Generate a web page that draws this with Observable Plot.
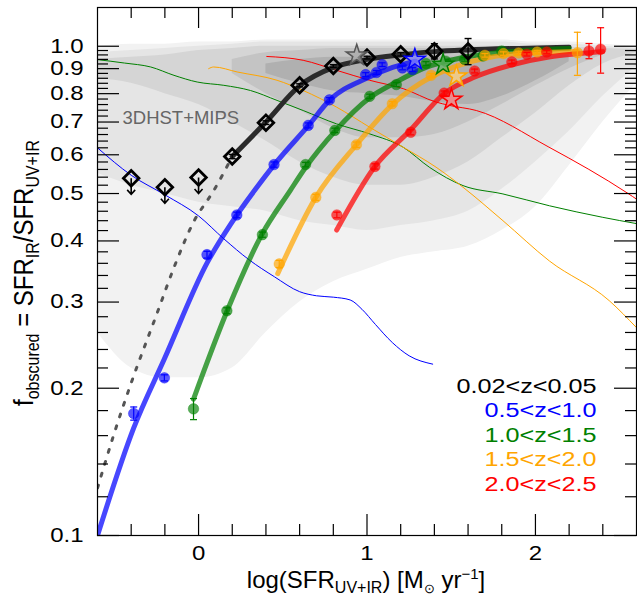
<!DOCTYPE html>
<html><head><meta charset="utf-8">
<script src="https://cdn.jsdelivr.net/npm/d3@7"></script>
<script src="https://cdn.jsdelivr.net/npm/@observablehq/plot@0.6"></script>
<style>body{margin:0;background:#fff}svg{display:block}</style>
</head><body><div id="chart"></div>
<script>
// ---------- data ----------
const xMajor = [0, 1, 2];
const xMinor = [-0.4, -0.2, 0.2, 0.4, 0.6, 0.8, 1.2, 1.4, 1.6, 1.8, 2.2, 2.4];
const yMajor = [0.1, 0.2, 0.3, 0.4, 0.5, 0.6, 0.7, 0.8, 0.9, 1.0];
const yMinor = d3.range(5, 50).filter(i => i % 5 !== 0).map(i => i / 50);

// background density (3DHST+MIPS), nested levels
const bandX = [-0.6,-0.4,-0.2,0,0.2,0.4,0.6,0.8,1.0,1.2,1.4,1.6,1.8,2.0,2.2,2.4,2.6];
const g1Lo = [0.26,0.22,0.21,0.21,0.22,0.26,0.30,0.33,0.35,0.37,0.38,0.39,0.42,0.47,0.57,0.70,0.84];
const g1Hi = [1.0,1.01,1.01,1.02,1.02,1.03,1.03,1.03,1.03,1.03,1.03,1.03,1.03,1.02,1.02,1.01,1.0];
const g2Lo = [0.55,0.52,0.50,0.48,0.47,0.46,0.44,0.43,0.42,0.43,0.44,0.46,0.51,0.58,0.67,0.79,0.91];
const g2Hi = [0.97,0.98,0.99,1.0,1.01,1.02,1.02,1.02,1.02,1.02,1.02,1.02,1.02,1.01,1.01,1.0,0.99];
const g3Lo = [0.86,0.84,0.80,0.76,0.70,0.64,0.58,0.54,0.52,0.52,0.54,0.58,0.65,0.73,0.83,0.92,0.97];
const g3Hi = [0.94,0.95,0.96,0.98,0.99,1.0,1.0,1.0,1.0,1.0,1.0,1.0,1.0,1.0,0.995,0.99,0.985];
const g4X  = [0.2,0.4,0.6,0.8,1.0,1.2,1.4,1.6,1.8,2.0,2.2,2.4];
const g4Lo = [0.88,0.80,0.74,0.68,0.65,0.65,0.66,0.70,0.76,0.83,0.90,0.96];
const g4Hi = [0.94,0.97,0.98,0.99,0.99,0.99,0.99,0.99,0.99,0.99,0.985,0.975];
const g5X  = [0.4,0.6,0.8,1.0,1.2,1.4,1.6,1.8,2.0,2.2];
const g5Lo = [0.88,0.84,0.81,0.80,0.79,0.77,0.76,0.79,0.85,0.93];
const g5Hi = [0.92,0.94,0.95,0.95,0.95,0.95,0.95,0.96,0.96,0.96];

// 0.02<z<0.05 (diamonds)
const bkX   = [-0.4,-0.2,0.0,0.2,0.4,0.6,0.8,1.0,1.2,1.4,1.6];
const bkY   = [0.537,0.515,0.539,0.595,0.698,0.832,0.911,0.948,0.963,0.977,0.977];
const bkErr = [0,0,0,0.006,0.006,0.006,0.006,0.006,0.008,0.035,0.06];
const bkLim = [true,true,true,false,false,false,false,false,false,false,false];
const bkLineX = [0.2,0.4,0.6,0.8,1.0,1.2,1.4,1.6,1.9,2.2];
const bkLineY = [0.595,0.70,0.83,0.905,0.94,0.96,0.975,0.983,0.99,0.995];
const bkDotX = [-0.6,-0.5,-0.4,-0.244,-0.146,-0.03,0.09,0.2];
const bkDotY = [0.125,0.162,0.205,0.286,0.353,0.437,0.507,0.595];

// 0.5<z<1.0
const blX   = [-0.385,-0.203,0.05,0.227,0.448,0.651,0.777,0.992,1.056,1.09,1.21,1.27];
const blY   = [0.1776,0.210,0.375,0.452,0.573,0.689,0.777,0.875,0.884,0.917,0.903,0.896];
const blErr = [0.0055,0.003,0.006,0.006,0.007,0.008,0.008,0.008,0.008,0.008,0.008,0.008];
const blLineX = [-0.6,-0.386,-0.202,0.053,0.19,0.333,0.451,0.653,0.778,0.998,1.152,1.288];
const blLineY = [0.100,0.1655,0.230,0.362,0.4325,0.5076,0.5735,0.689,0.776,0.860,0.905,0.932];
const blThinX = [-0.6,-0.4,-0.2,0,0.15,0.3,0.45,0.6,0.7,0.8,0.9,0.97,1.05,1.15,1.25,1.39];
const blThinY = [0.62,0.545,0.497,0.45,0.404,0.366,0.338,0.315,0.309,0.307,0.303,0.29,0.27,0.248,0.233,0.224];

// 1.0<z<1.5
const grX   = [-0.03,0.168,0.379,0.635,0.809,1.016,1.174,1.35,1.467,1.58,1.689,1.80];
const grY   = [0.1815,0.288,0.412,0.573,0.673,0.790,0.835,0.922,0.932,0.940,0.955,0.978];
const grErr = [0.009,0.004,0.005,0.006,0.007,0.008,0.008,0.008,0.008,0.008,0.008,0.012];
const grLineX = [-0.03,0.17,0.377,0.544,0.635,0.809,1.016,1.174,1.35,1.55,1.8,2.2];
const grLineY = [0.19,0.288,0.413,0.507,0.565,0.670,0.785,0.845,0.905,0.945,0.972,0.99];
const grThinX = [-0.6,-0.44,-0.284,-0.146,-0.008,0.15,0.308,0.466,0.621,0.819,1.016,1.214,1.373,1.57,1.807,2.083,2.4,2.6];
const grThinY = [0.939,0.924,0.907,0.872,0.845,0.832,0.812,0.775,0.739,0.694,0.662,0.622,0.565,0.519,0.499,0.472,0.447,0.434];

// 1.5<z<2.0
const orX   = [0.479,0.696,0.937,1.15,1.381,1.70,1.81,1.90,2.01,2.249];
const orY   = [0.359,0.491,0.629,0.763,0.872,0.958,0.966,0.969,0.973,0.970];
const orErr = [0.006,0.007,0.008,0.008,0.008,0.008,0.008,0.008,0.008,0.098];
const orLineX = [0.47,0.696,0.937,1.15,1.381,1.55,1.7,1.9,2.25];
const orLineY = [0.343,0.491,0.629,0.760,0.865,0.915,0.945,0.965,0.975];
const orThinX = [0.06,0.09,0.229,0.466,0.621,0.819,1.016,1.214,1.41,1.57,1.807,2.083,2.438,2.6];
const orThinY = [0.90,0.907,0.886,0.852,0.812,0.751,0.683,0.622,0.566,0.515,0.44,0.364,0.302,0.266];

// 2.0<z<2.5
const rdX   = [0.821,1.047,1.26,1.458,1.639,1.86,1.949,2.067,2.318,2.387];
const rdY   = [0.452,0.568,0.667,0.802,0.890,0.929,0.963,0.973,0.978,0.986];
const rdErr = [0.006,0.007,0.008,0.008,0.008,0.008,0.008,0.008,0.035,0.105];
const rdLineX = [0.82,1.047,1.26,1.458,1.64,1.88,2.08,2.28,2.4];
const rdLineY = [0.421,0.568,0.675,0.80,0.865,0.92,0.951,0.967,0.975];
const rdThinX = [0.405,0.621,0.819,1.016,1.215,1.41,1.489,1.649,2.08,2.554,2.6];
const rdThinY = [0.953,0.936,0.893,0.852,0.819,0.769,0.757,0.739,0.622,0.499,0.487];

// stars
const starX = [0.939,1.284,1.452,1.531,1.501];
const starY = [0.958,0.939,0.917,0.868,0.778];

const legendLabels = ["0.02<z<0.05","0.5<z<1.0","1.0<z<1.5","1.5<z<2.0","2.0<z<2.5"];
const colors = ["#000000","#0000ff","#008000","#ffa500","#ff0000"];
const starFill = ["#aaaaaa","#7f7fff","#66b366","#ffd27f","#ff8080"];
const starStroke = ["#555555","#0000ff","#008000","#ffa500","#ff0000"];

// ---------- helpers ----------
const zip = (xs, ys, extra = {}) => xs.map((x, i) => {
  const o = {x, y: ys[i]};
  for (const k in extra) o[k] = extra[k][i];
  return o;
});
const bands = (xs, lo, hi) => xs.map((x, i) => ({x, lo: lo[i], hi: hi[i]}));

const W = 637, H = 599, mL = 97, mR = 1, mT = 7, mB = 64;
const innerW = W - mL - mR, innerH = H - mT - mB;

const capSym = {draw(ctx) { ctx.moveTo(-3.5, 0); ctx.lineTo(3.5, 0); }};
const arrowSym = {draw(ctx) { ctx.moveTo(0, 0); ctx.lineTo(0, 16); ctx.moveTo(-4, 11.5); ctx.lineTo(0, 16); ctx.lineTo(4, 11.5); }};

function errMarks(rows, color, w = 1.2) {
  const r = rows.filter(d => d.e > 0);
  return [
    Plot.ruleX(r, {x: "x", y1: d => d.y - d.e, y2: d => d.y + d.e, stroke: color, strokeWidth: w}),
    Plot.dot(r, {x: "x", y: d => d.y - d.e, symbol: capSym, stroke: color, strokeWidth: w, fill: "none"}),
    Plot.dot(r, {x: "x", y: d => d.y + d.e, symbol: capSym, stroke: color, strokeWidth: w, fill: "none"})
  ];
}

const series = [
  {pts: zip(blX, blY, {e: blErr}), line: zip(blLineX, blLineY), thin: zip(blThinX, blThinY), c: colors[1]},
  {pts: zip(grX, grY, {e: grErr}), line: zip(grLineX, grLineY), thin: zip(grThinX, grThinY), c: colors[2]},
  {pts: zip(orX, orY, {e: orErr}), line: zip(orLineX, orLineY), thin: zip(orThinX, orThinY), c: colors[3]},
  {pts: zip(rdX, rdY, {e: rdErr}), line: zip(rdLineX, rdLineY), thin: zip(rdThinX, rdThinY), c: colors[4]}
];
const bk = zip(bkX, bkY, {e: bkErr, lim: bkLim});
const stars = zip(starX, starY, {f: starFill, s: starStroke});

const area = (rows, fill) => Plot.areaY(rows, {x: "x", y1: "lo", y2: "hi", fill, curve: "monotone-x", clip: true});
const marks = [
  area(bands(bandX, g1Lo, g1Hi), "#f2f2f2"),
  area(bands(bandX, g2Lo, g2Hi), "#e5e5e5"),
  area(bands(bandX, g3Lo, g3Hi), "#d5d5d5"),
  area(bands(g4X, g4Lo, g4Hi), "#c4c4c4"),
  area(bands(g5X, g5Lo, g5Hi), "#b0b0b0"),
  Plot.text(["3DHST+MIPS"], {frameAnchor: "top-left", dx: 25, dy: 103, text: d => d, textAnchor: "start", fill: "#666666", fontSize: 18.5})
];
for (const s of series) marks.push(Plot.line(s.thin, {x: "x", y: "y", stroke: s.c, strokeWidth: 1, curve: "monotone-x", clip: true}));
marks.push(Plot.line(zip(bkDotX, bkDotY), {x: "x", y: "y", stroke: "#555555", strokeWidth: 3, strokeDasharray: "3,9.4", curve: "monotone-x", clip: true}));
marks.push(Plot.line(zip(bkLineX, bkLineY), {x: "x", y: "y", stroke: "#2b2b2b", strokeWidth: 5, curve: "monotone-x", clip: true}));
for (const s of series) marks.push(Plot.line(s.line, {x: "x", y: "y", stroke: s.c, strokeOpacity: 0.72, strokeWidth: 5, curve: "monotone-x", clip: true}));
for (const s of series) {
  marks.push(Plot.dot(s.pts, {x: "x", y: "y", r: 5.3, fill: s.c, fillOpacity: 0.65, stroke: s.c, strokeOpacity: 0.35, strokeWidth: 1}));
  marks.push(...errMarks(s.pts, s.c));
}
marks.push(Plot.dot(bk.filter(d => d.lim), {x: "x", y: "y", symbol: arrowSym, stroke: "black", strokeWidth: 1.6, fill: "none"}));
marks.push(...errMarks(bk, "black", 1.4));
marks.push(Plot.dot(bk, {x: "x", y: "y", symbol: "diamond2", r: 7, stroke: "black", strokeWidth: 2.8, fill: "none"}));
stars.forEach(s => marks.push(Plot.dot([s], {x: "x", y: "y", symbol: "star", r: 6.6, fill: s.f, fillOpacity: 0.75, stroke: s.s, strokeWidth: 1.5})));

// ticks (inward, all four sides)
const tk = {stroke: "black", strokeWidth: 1.2};
marks.push(
  Plot.tickX(xMajor, {x: d => d, insetTop: innerH - 21, ...tk}),
  Plot.tickX(xMinor, {x: d => d, insetTop: innerH - 11, ...tk}),
  Plot.tickX(xMajor, {x: d => d, insetBottom: innerH - 21, ...tk}),
  Plot.tickX(xMinor, {x: d => d, insetBottom: innerH - 11, ...tk}),
  Plot.tickY(yMajor, {y: d => d, insetRight: innerW - 22, ...tk}),
  Plot.tickY(yMinor, {y: d => d, insetRight: innerW - 11, ...tk}),
  Plot.tickY(yMajor, {y: d => d, insetLeft: innerW - 22, ...tk}),
  Plot.tickY(yMinor, {y: d => d, insetLeft: innerW - 11, ...tk}),
  Plot.frame({stroke: "black", strokeWidth: 1.2}),
  Plot.axisX(xMajor, {anchor: "bottom", tickSize: 0, tickPadding: 10, fontSize: 20, tickFormat: d => String(d), fill: "black"}),
  Plot.axisY(yMajor, {anchor: "left", tickSize: 0, tickPadding: 14, fontSize: 20, tickFormat: d => d.toFixed(1), fill: "black"})
);
legendLabels.forEach((t, i) => marks.push(
  Plot.text([t], {frameAnchor: "bottom-right", dx: -40, dy: -143 + 24.6 * i, text: d => d, textAnchor: "end", fill: colors[i], fontSize: 21, className: "legend"})
));

const svg = Plot.plot({
  width: W, height: H,
  marginLeft: mL, marginRight: mR, marginTop: mT, marginBottom: mB,
  x: {domain: [-0.6, 2.6], label: null},
  y: {type: "log", domain: [0.1, 1.2], label: null},
  style: {fontFamily: "'Liberation Sans', Arial, Helvetica, sans-serif", background: "#ffffff", color: "black"},
  marks
});
document.getElementById("chart").appendChild(svg);

// horizontal stretch of tick labels and legend text (matches the reference glyph shapes)
svg.querySelectorAll("g[aria-label='x-axis tick label'] text, g[aria-label='y-axis tick label'] text, .legend text, g.legend text").forEach(t => {
  const tr = t.getAttribute("transform");
  if (tr) t.setAttribute("transform", tr + " scale(1.2,1)");
});

const sel = d3.select(svg);
// y title
const yt = sel.append("text")
  .attr("transform", "translate(33,273) rotate(-90) scale(1,1.12)")
  .attr("text-anchor", "middle").attr("font-size", 24).attr("fill", "black");
yt.append("tspan").text("f");
yt.append("tspan").attr("font-size", 16).attr("dy", 5).text("obscured");
yt.append("tspan").attr("dy", -5).text(" = SFR");
yt.append("tspan").attr("font-size", 16).attr("dy", 5).text("IR");
yt.append("tspan").attr("dy", -5).text("/SFR");
yt.append("tspan").attr("font-size", 16).attr("dy", 5).text("UV+IR");
// x title
const xt = sel.append("text")
  .attr("transform", "translate(366,588)")
  .attr("text-anchor", "middle").attr("font-size", 24).attr("fill", "black");
xt.append("tspan").text("log(SFR");
xt.append("tspan").attr("font-size", 16).attr("dy", 5).text("UV+IR");
xt.append("tspan").attr("dy", -5).text(") [M");
xt.append("tspan").attr("font-size", 13).attr("dy", 5).text("\u2299");
xt.append("tspan").attr("dy", -5).text(" yr");
xt.append("tspan").attr("font-size", 15).attr("dy", -9).text("\u22121");
xt.append("tspan").attr("dy", 9).text("]");
</script></body></html>
